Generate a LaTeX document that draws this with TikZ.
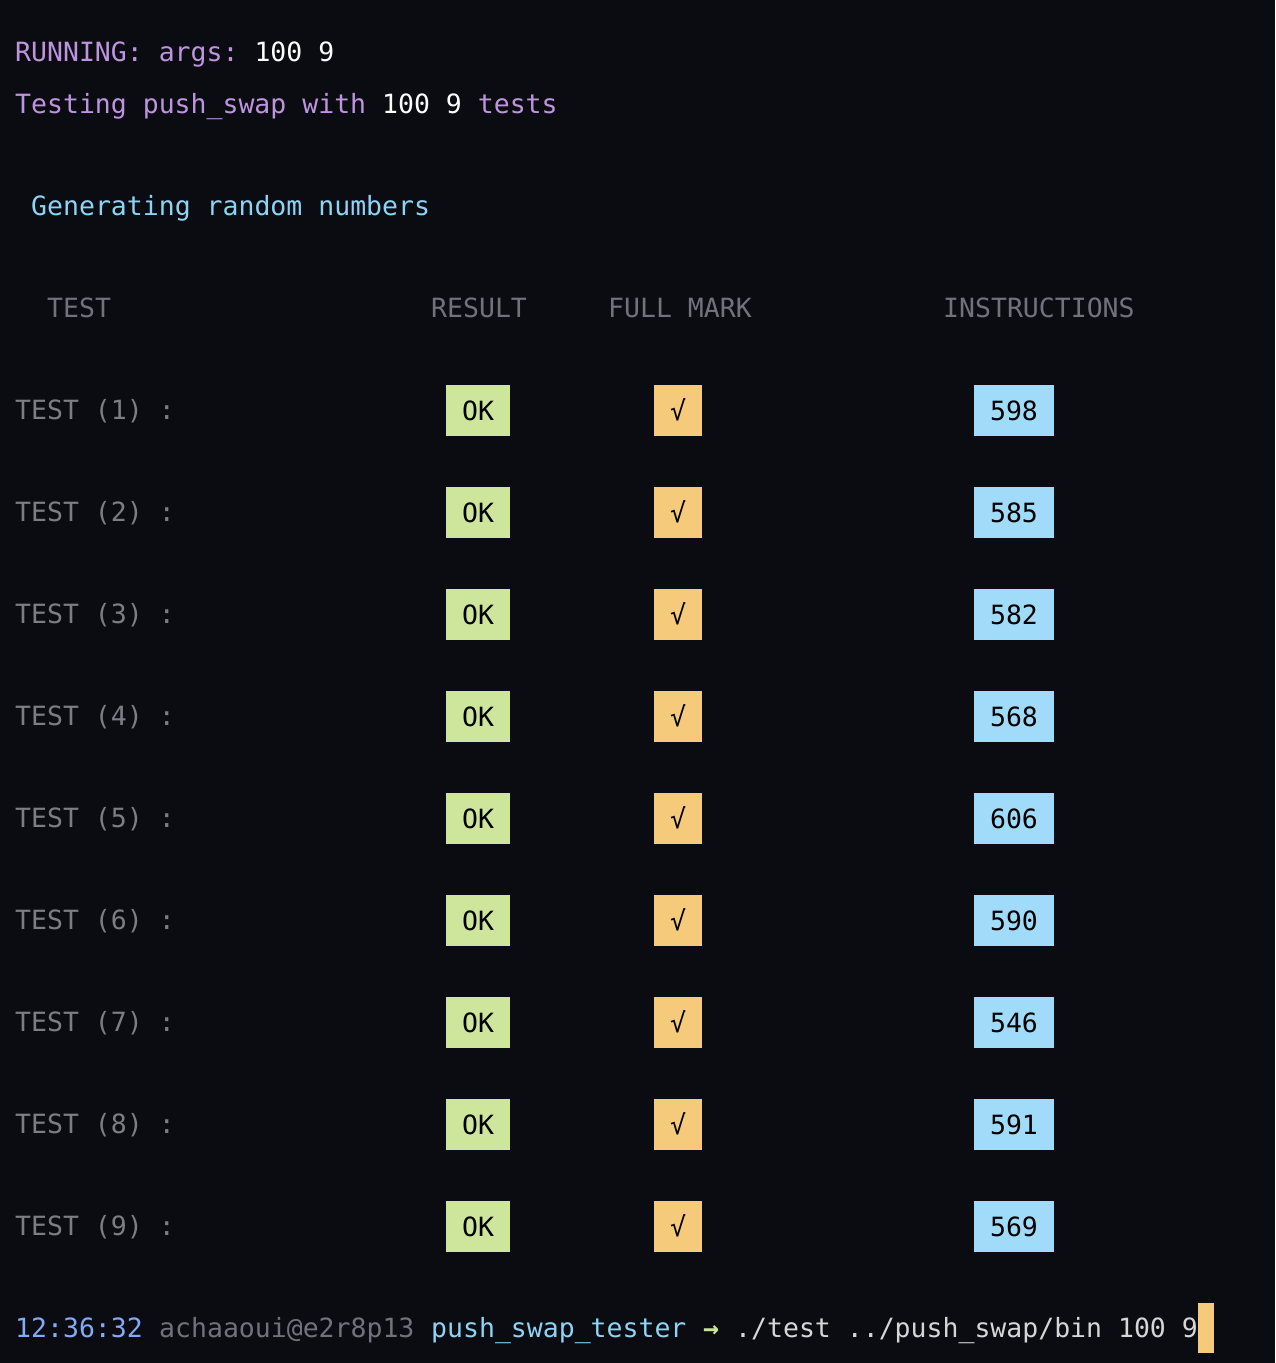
\documentclass[tikz,border=0pt]{standalone}
\usepackage{fontspec}
\setmonofont{DejaVu Sans Mono}
\usepackage{tikz}
\usetikzlibrary{positioning}
\usepackage{xcolor}
\definecolor{termbg}{RGB}{11, 12, 17}
\definecolor{prompt}{RGB}{190, 148, 225}
\definecolor{info}{RGB}{140, 212, 246}
\definecolor{header}{RGB}{112, 114, 124}
\definecolor{label}{RGB}{124, 126, 134}
\definecolor{okgreen}{RGB}{205, 230, 155}
\definecolor{markorange}{RGB}{245, 202, 122}
\definecolor{countblue}{RGB}{160, 220, 250}
\definecolor{clock}{RGB}{130, 170, 250}
\definecolor{arrowgreen}{RGB}{200, 230, 150}
\definecolor{command}{RGB}{214, 214, 214}
\newcommand{\termfont}{\ttfamily\fontsize{26.5}{51}\selectfont}
\tikzset{
    termtext/.style={anchor=base west, inner sep=0pt, font=\termfont},
    cell/.style={rectangle, minimum height=51pt, inner sep=0pt, text height=19pt, text depth=0pt, text=black, font=\termfont},
    okcell/.style={cell, fill=okgreen, minimum width=64pt},
    markcell/.style={cell, fill=markorange, minimum width=48pt},
    countcell/.style={cell, fill=countblue, minimum width=80pt}
}
\begin{document}
\begin{tikzpicture}[x=1pt, y=-1pt]
    % Terminal window
    \fill[termbg] (0, 0) rectangle (1275, 1363);

    % Run header
    \node[termtext, text=prompt] (running) at (15, 61) {RUNNING: args: \textcolor{white}{100 9}};
    \node[termtext, text=prompt] (testing) at (15, 113) {Testing push\_swap with \textcolor{white}{100 9} tests};
    \node[termtext, text=info] (generating) at (31, 215) {Generating random numbers};

    % Column titles
    \node[termtext, text=header] (headtest) at (47, 317) {TEST};
    \node[termtext, text=header] (headresult) at (431, 317) {RESULT};
    \node[termtext, text=header] (headmark) at (608, 317) {FULL MARK};
    \node[termtext, text=header] (headcount) at (943, 317) {INSTRUCTIONS};

    % Test rows
    \node[termtext, text=label] (test1) at (15, 419) {TEST (1) :};
    \node[okcell] (ok1) at (478, 410.5) {OK};
    \node[markcell] (mark1) at (678, 410.5) {√};
    \node[countcell] (count1) at (1014, 410.5) {598};

    \node[termtext, text=label] (test2) at (15, 521) {TEST (2) :};
    \node[okcell] (ok2) at (478, 512.5) {OK};
    \node[markcell] (mark2) at (678, 512.5) {√};
    \node[countcell] (count2) at (1014, 512.5) {585};

    \node[termtext, text=label] (test3) at (15, 623) {TEST (3) :};
    \node[okcell] (ok3) at (478, 614.5) {OK};
    \node[markcell] (mark3) at (678, 614.5) {√};
    \node[countcell] (count3) at (1014, 614.5) {582};

    \node[termtext, text=label] (test4) at (15, 725) {TEST (4) :};
    \node[okcell] (ok4) at (478, 716.5) {OK};
    \node[markcell] (mark4) at (678, 716.5) {√};
    \node[countcell] (count4) at (1014, 716.5) {568};

    \node[termtext, text=label] (test5) at (15, 827) {TEST (5) :};
    \node[okcell] (ok5) at (478, 818.5) {OK};
    \node[markcell] (mark5) at (678, 818.5) {√};
    \node[countcell] (count5) at (1014, 818.5) {606};

    \node[termtext, text=label] (test6) at (15, 929) {TEST (6) :};
    \node[okcell] (ok6) at (478, 920.5) {OK};
    \node[markcell] (mark6) at (678, 920.5) {√};
    \node[countcell] (count6) at (1014, 920.5) {590};

    \node[termtext, text=label] (test7) at (15, 1031) {TEST (7) :};
    \node[okcell] (ok7) at (478, 1022.5) {OK};
    \node[markcell] (mark7) at (678, 1022.5) {√};
    \node[countcell] (count7) at (1014, 1022.5) {546};

    \node[termtext, text=label] (test8) at (15, 1133) {TEST (8) :};
    \node[okcell] (ok8) at (478, 1124.5) {OK};
    \node[markcell] (mark8) at (678, 1124.5) {√};
    \node[countcell] (count8) at (1014, 1124.5) {591};

    \node[termtext, text=label] (test9) at (15, 1235) {TEST (9) :};
    \node[okcell] (ok9) at (478, 1226.5) {OK};
    \node[markcell] (mark9) at (678, 1226.5) {√};
    \node[countcell] (count9) at (1014, 1226.5) {569};

    % Shell prompt
    \node[termtext, text=clock] (clock) at (15, 1337) {12:36:32};
    \node[termtext, text=header] (user) at (159, 1337) {achaaoui@e2r8p13};
    \node[termtext, text=info] (cwd) at (431, 1337) {push\_swap\_tester};
    \node[termtext, text=arrowgreen, font=\termfont\bfseries] (arrow) at (703, 1337) {→};
    \node[termtext, text=command] (cmd) at (735, 1337) {./test ../push\_swap/bin 100 9};
    \node[rectangle, fill=markorange, inner sep=0pt, minimum width=16pt, minimum height=50pt] (cursor) at (1206, 1328) {};
\end{tikzpicture}
\end{document}
